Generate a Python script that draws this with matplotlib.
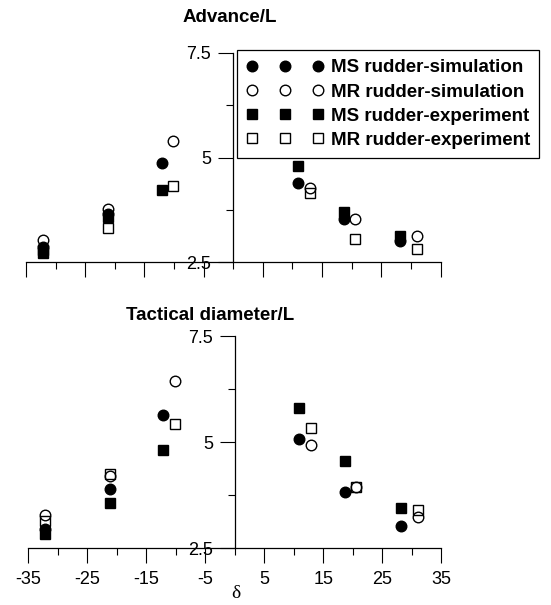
import matplotlib
matplotlib.use("Agg")
import matplotlib.pyplot as plt
from matplotlib.ticker import FixedLocator

plt.rcParams['font.family'] = ['Liberation Sans', 'DejaVu Sans']

# rudder angle (deg) for the two rudder types
delta_ms = [-32.2, -21.1, -12.1, 10.9, 18.7, 28.2]
delta_mr = [-32.2, -21.1, -10.2, 12.9, 20.5, 31.0]

# advance / ship length
adv_ms_sim = [2.86, 3.66, 4.87, 4.40, 3.54, 3.01]
adv_mr_sim = [3.02, 3.78, 5.40, 4.28, 3.52, 3.12]
adv_ms_exp = [2.72, 3.58, 4.23, 4.79, 3.70, 3.12]
adv_mr_exp = [2.78, 3.32, 4.33, 4.14, 3.06, 2.81]

# tactical diameter / ship length
td_ms_sim = [2.96, 3.90, 5.64, 5.07, 3.83, 3.03]
td_mr_sim = [3.29, 4.20, 6.45, 4.92, 3.93, 3.23]
td_ms_exp = [2.84, 3.57, 4.80, 5.81, 4.55, 3.44]
td_mr_exp = [3.14, 4.24, 5.42, 5.32, 3.95, 3.40]

labels = ["MS rudder-simulation", "MR rudder-simulation",
          "MS rudder-experiment", "MR rudder-experiment"]

ms = 7.6
mew = 1.0


def draw_panel(ax, ms_sim, mr_sim, ms_exp, mr_exp, show_xlabels):
    h2, = ax.plot(delta_mr, mr_sim, 'o', ms=ms, mfc='none', mec='black', mew=mew, clip_on=False)
    h4, = ax.plot(delta_mr, mr_exp, 's', ms=ms * 0.95, mfc='none', mec='black', mew=mew, clip_on=False)
    h1, = ax.plot(delta_ms, ms_sim, 'o', ms=ms, mfc='black', mec='black', mew=mew, clip_on=False)
    h3, = ax.plot(delta_ms, ms_exp, 's', ms=ms * 0.95, mfc='black', mec='black', mew=mew, clip_on=False)

    ax.set_xlim(-35, 35)
    ax.set_ylim(2.5, 7.5)
    ax.spines['top'].set_visible(False)
    ax.spines['right'].set_visible(False)
    ax.spines['left'].set_position(('data', 0))
    for s in ('left', 'bottom'):
        ax.spines[s].set_linewidth(0.9)

    ax.xaxis.set_major_locator(FixedLocator(list(range(-35, 36, 10))))
    ax.xaxis.set_minor_locator(FixedLocator(list(range(-30, 31, 10))))
    ax.yaxis.set_major_locator(FixedLocator([2.5, 5, 7.5]))
    ax.yaxis.set_minor_locator(FixedLocator([3.75, 6.25]))
    ax.set_yticklabels(['2.5', '5', '7.5'])
    ax.set_xticklabels(['-35', '-25', '-15', '-5', '5', '15', '25', '35'])

    ax.tick_params(which='major', length=10.8, width=0.8, direction='out', labelsize=13)
    ax.tick_params(which='minor', length=5, width=0.8, direction='out')
    ax.tick_params(axis='y', pad=5)
    ax.tick_params(axis='x', pad=6, labelbottom=show_xlabels)
    ax.patch.set_visible(False)
    return [h1, h2, h3, h4]


fig = plt.figure(figsize=(5.51, 6.05), dpi=100)
ax1 = fig.add_axes([0.0472, 0.5669, 0.7523, 0.3455])
ax2 = fig.add_axes([0.0514, 0.0942, 0.7495, 0.3504])

handles = draw_panel(ax1, adv_ms_sim, adv_mr_sim, adv_ms_exp, adv_mr_exp, False)
draw_panel(ax2, td_ms_sim, td_mr_sim, td_ms_exp, td_mr_exp, True)

fig.text(183 / 551, 1 - 17 / 605, "Advance/L", fontsize=13.5, fontweight='bold',
         ha='left', va='center')
fig.text(126 / 551, 1 - 315 / 605, "Tactical diameter/L", fontsize=13.5, fontweight='bold',
         ha='left', va='center')
fig.text(236 / 551, 1 - 594 / 605, "δ", fontsize=14, family=['Liberation Serif', 'DejaVu Serif'],
         ha='center', va='center')

leg = fig.legend(handles, labels, loc='upper left',
                 bbox_to_anchor=(237 / 551, 1 - 50 / 605), bbox_transform=fig.transFigure,
                 numpoints=3, handlelength=4.1, handletextpad=0.4, borderpad=0.5,
                 labelspacing=0.37, borderaxespad=0, fancybox=False, framealpha=1,
                 edgecolor='black', prop={'size': 13.5, 'weight': 'bold'})
leg.get_frame().set_linewidth(0.9)

fig.savefig("out.png", dpi=100)
